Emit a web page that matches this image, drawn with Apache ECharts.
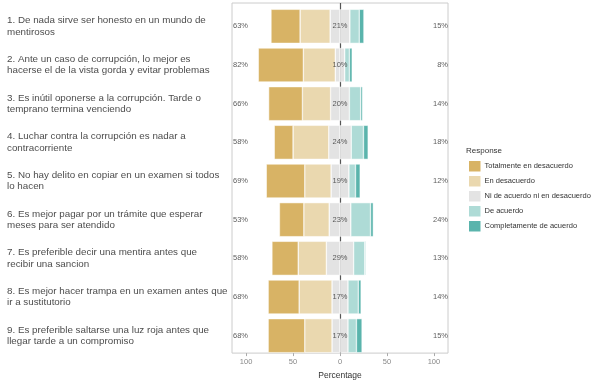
<!DOCTYPE html>
<html><head><meta charset="utf-8">
<script src="https://cdn.jsdelivr.net/npm/echarts@6/dist/echarts.min.js"></script>
<style>html,body{margin:0;padding:0;background:#fff}#c{width:593px;height:385px}</style>
</head><body><div id="c"></div>
<script>
var categories = [
  "1. De nada sirve ser honesto en un mundo de\nmentirosos",
  "2. Ante un caso de corrupción, lo mejor es\nhacerse el de la vista gorda y evitar problemas",
  "3. Es inútil oponerse a la corrupción. Tarde o\ntemprano termina venciendo",
  "4. Luchar contra la corrupción es nadar a\ncontracorriente",
  "5. No hay delito en copiar en un examen si todos\nlo hacen",
  "6. Es mejor pagar por un trámite que esperar\nmeses para ser atendido",
  "7. Es preferible decir una mentira antes que\nrecibir una sancion",
  "8. Es mejor hacer trampa en un examen antes que\nir a sustitutorio",
  "9. Es preferible saltarse una luz roja antes que\nllegar tarde a un compromiso"
];
var responseNames = ["Totalmente en desacuerdo","En desacuerdo","Ni de acuerdo ni en desacuerdo","De acuerdo","Completamente de acuerdo"];
var totalmenteDesacuerdo = [31,48,36,20,41,26,28,33,39];
var enDesacuerdo        = [32,34,30,38,28,27,30,35,29];
var neutral             = [21,10,20,24,19,23,29,17,17];
var deAcuerdo           = [10,5,12,13,7,21,12,11,9];
var completamenteAcuerdo= [5,3,2,5,5,3,1,3,6];
var tickValues = [-100,-50,0,50,100];

var colors = ["#D8B365","#EAD8AF","#E3E3E3","#AEDBD6","#5AB4AC"];
var idx = categories.map(function(_, i){ return i; });
var leftSum = idx.map(function(i){ return totalmenteDesacuerdo[i] + enDesacuerdo[i]; });
var rightSum = idx.map(function(i){ return deAcuerdo[i] + completamenteAcuerdo[i]; });

function neg(a){ return a.map(function(v){ return -v; }); }
function half(a, s){ return a.map(function(v){ return s*v/2; }); }

var barBase = {
  type: 'bar', stack: 'lik', xAxisIndex: 0, yAxisIndex: 0,
  barCategoryGap: '12%', z: 3,
  itemStyle: { borderColor: '#ffffff', borderWidth: 0.5 },
  emphasis: { disabled: true }
};
function bar(name, data, color){
  return Object.assign({}, barBase, { name: name, data: data, itemStyle: Object.assign({}, barBase.itemStyle, { color: color }) });
}
var labelFont = { fontFamily: 'Liberation Sans', fontSize: 7.5, color: '#333333' };

var chart = echarts.init(document.getElementById('c'));
chart.setOption({
  animation: false,
  textStyle: { fontFamily: 'Liberation Sans' },
  title: { text: 'Response', left: 461, top: 142, textStyle: { fontFamily: 'Liberation Sans', fontSize: 8, fontWeight: 'normal', color: '#333333' } },
  legend: {
    orient: 'vertical', left: 462, top: 154,
    itemWidth: 13.5, itemHeight: 12.6, itemGap: 0.4,
    icon: 'rect',
    data: responseNames,
    textStyle: { fontFamily: 'Liberation Sans', fontSize: 7.5, color: '#333333', padding: [0,0,0,-2] },
    selectedMode: false
  },
  grid: [
    { left: 232, width: 216, top: 7, height: 348 },
    { left: 232, width: 216, top: 3, height: 354.5, show: true, borderColor: '#cccccc', borderWidth: 1 }
  ],
  xAxis: [
    { type: 'value', gridIndex: 0, min: -115, max: 115, show: false },
    { type: 'value', gridIndex: 1, min: -115, max: 115,
      name: 'Percentage', nameLocation: 'middle', nameGap: 15,
      nameTextStyle: { fontFamily: 'Liberation Sans', fontSize: 8.5, color: '#333333' },
      axisLine: { show: false },
      axisTick: { show: true, length: 3, lineStyle: { color: '#aaaaaa' }, customValues: tickValues },
      axisLabel: { customValues: tickValues, margin: 5, fontSize: 7.5, color: '#888888', fontFamily: 'Liberation Sans',
        formatter: function(v){ return String(Math.abs(v)); } },
      splitLine: { show: false }
    }
  ],
  yAxis: [
    { type: 'category', gridIndex: 0, data: categories, inverse: true,
      axisLine: { show: false }, axisTick: { show: false },
      axisLabel: { align: 'left', margin: 225, fontSize: 9.8, lineHeight: 11.5, color: '#4d4d4d', fontFamily: 'Liberation Sans' } },
    { type: 'value', gridIndex: 1, min: 0, max: 1, show: false }
  ],
  series: [
    { type: 'line', xAxisIndex: 1, yAxisIndex: 1, data: [], z: 1, silent: true,
      markLine: { z: 1, symbol: 'none', silent: true, label: { show: false },
        lineStyle: { color: '#555555', width: 1.2, type: 'solid' },
        data: [{ xAxis: 0 }] } },
    bar(responseNames[2], half(neutral, -1), colors[2]),
    bar(responseNames[1], neg(enDesacuerdo), colors[1]),
    bar(responseNames[0], neg(totalmenteDesacuerdo), colors[0]),
    bar(responseNames[2], half(neutral, 1), colors[2]),
    bar(responseNames[3], deAcuerdo, colors[3]),
    bar(responseNames[4], completamenteAcuerdo, colors[4]),
    { type: 'scatter', xAxisIndex: 0, yAxisIndex: 0, symbolSize: 0, z: 5, silent: true,
      data: idx.map(function(i){ return [-115, i, leftSum[i]]; }),
      label: Object.assign({ show: true, position: 'right', distance: 1, formatter: function(p){ return p.value[2] + '%'; } }, labelFont) },
    { type: 'scatter', xAxisIndex: 0, yAxisIndex: 0, symbolSize: 0, z: 5, silent: true,
      data: idx.map(function(i){ return [115, i, rightSum[i]]; }),
      label: Object.assign({ show: true, position: 'left', distance: 0, formatter: function(p){ return p.value[2] + '%'; } }, labelFont) },
    { type: 'scatter', xAxisIndex: 0, yAxisIndex: 0, symbolSize: 0, z: 5, silent: true,
      data: idx.map(function(i){ return [0, i, neutral[i]]; }),
      label: Object.assign({ show: true, position: 'inside', formatter: function(p){ return p.value[2] + '%'; } }, labelFont) }
  ]
});
</script></body></html>
